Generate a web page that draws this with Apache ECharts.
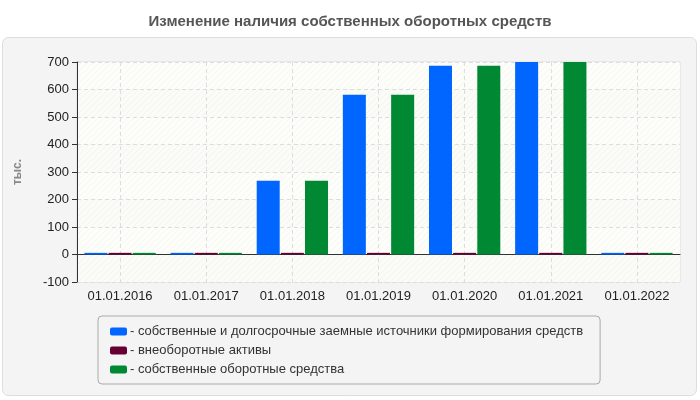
<!DOCTYPE html>
<html>
<head>
<meta charset="utf-8">
<script src="https://cdn.jsdelivr.net/npm/echarts@6/dist/echarts.min.js"></script>
<style>
html,body{margin:0;padding:0;background:#fff;}
#chart{width:700px;height:400px;}
</style>
</head>
<body>
<div id="chart"></div>
<script>
// данные графика
var categories = ['01.01.2016','01.01.2017','01.01.2018','01.01.2019','01.01.2020','01.01.2021','01.01.2022'];
var seriesNames = [
	'собственные и долгосрочные заемные источники формирования средств',
	'внеоборотные активы',
	'собственные оборотные средства'
];
var sourcesValues = [6, 6, 268, 581, 686, 700, 6];
var fixedAssetsValues = [6, 6, 6, 6, 6, 6, 6];
var workingCapitalValues = [6, 6, 268, 581, 686, 700, 6];
var colors = ['#0066ff', '#660033', '#008833'];

// штриховка фона
function hatch(bg, line){
	var c = document.createElement('canvas');
	c.width = 6; c.height = 6;
	var ctx = c.getContext('2d');
	ctx.fillStyle = bg;
	ctx.fillRect(0, 0, 6, 6);
	ctx.strokeStyle = line;
	ctx.lineWidth = 1;
	ctx.beginPath();
	ctx.moveTo(0, 6); ctx.lineTo(6, 0);
	ctx.moveTo(-3, 3); ctx.lineTo(3, -3);
	ctx.moveTo(3, 9); ctx.lineTo(9, 3);
	ctx.stroke();
	return {image: c, repeat: 'repeat'};
}

var myChart = echarts.init(document.getElementById('chart'));
var option = {
	backgroundColor: '#fff',
	textStyle: {fontFamily: 'Liberation Sans, Arial, sans-serif'},
	animation: false,
	graphic: [{
		type: 'rect',
		shape: {x: 2.5, y: 37.5, width: 694, height: 358, r: 6},
		style: {fill: '#f4f4f4', stroke: '#dddddd', lineWidth: 1},
		z: -10
	}],
	title: {
		text: 'Изменение наличия собственных оборотных средств',
		left: 'center',
		top: 9,
		textStyle: {fontSize: 15, fontWeight: 'bold', color: '#555555'}
	},
	legend: {
		orient: 'vertical',
		left: 98,
		top: 316,
		itemWidth: 17,
		itemHeight: 8,
		itemGap: 6,
		icon: 'roundRect',
		padding: [9, 17, 8, 12],
		borderColor: '#aaaaaa',
		borderWidth: 1,
		borderRadius: 4,
		backgroundColor: '#f4f4f4',
		formatter: function(name){ return '- ' + name; },
		textStyle: {fontSize: 13, color: '#333333', padding: [0, 0, 0, -2]},
		data: seriesNames
	},
	grid: {
		left: 77,
		right: 20,
		top: 62,
		bottom: 118,
		show: true,
		borderColor: '#dddddd',
		borderWidth: 1
	},
	xAxis: {
		type: 'category',
		data: categories,
		axisLine: {lineStyle: {color: '#333333'}},
		axisTick: {alignWithLabel: true, length: 5, lineStyle: {color: '#333333'}},
		axisLabel: {fontSize: 13, color: '#222222', margin: 8},
		splitLine: {show: true, alignWithLabel: true, lineStyle: {color: '#dddddd', type: [4, 3]}}
	},
	yAxis: {
		type: 'value',
		min: -100,
		max: 700,
		interval: 100,
		name: 'тыс.',
		nameLocation: 'middle',
		nameGap: 53,
		nameTextStyle: {fontSize: 12, fontWeight: 'bold', color: '#888888'},
		axisLine: {show: true, lineStyle: {color: '#333333'}},
		axisTick: {show: true, length: 5, lineStyle: {color: '#333333'}},
		axisLabel: {fontSize: 13, color: '#222222', margin: 8},
		splitLine: {lineStyle: {color: '#dddddd', type: [4, 3]}},
		splitArea: {
			show: true,
			areaStyle: {color: [hatch('#fbfbf8', '#f3f3f0'), hatch('#fdfdf9', '#f6f6f2')]}
		}
	},
	series: [
		{name: seriesNames[0], type: 'bar', data: sourcesValues, barWidth: 23, barGap: '5%', itemStyle: {color: colors[0]}},
		{name: seriesNames[1], type: 'bar', data: fixedAssetsValues, barWidth: 23, barGap: '5%', itemStyle: {color: colors[1]}},
		{name: seriesNames[2], type: 'bar', data: workingCapitalValues, barWidth: 23, barGap: '5%', itemStyle: {color: colors[2]}}
	]
};
myChart.setOption(option);
</script>
</body>
</html>
